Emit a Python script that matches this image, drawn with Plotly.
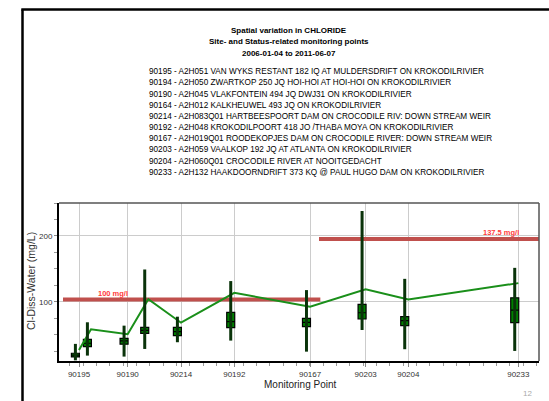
import plotly.graph_objects as go

# ---------------- data ----------------
site_ids = ["90195", "90194", "90190", "90164", "90214", "90192", "90167", "90203", "90204", "90233"]
site_pos = [15, 24, 51.5, 67, 91.5, 131.5, 188.3, 230, 262, 344.5]   # position along the river
labeled_sites = ["90195", "90190", "90214", "90192", "90167", "90203", "90204", "90233"]

whisker_low = [11, 18.2, 16.7, 28.3, 38.5, 41, 24.2, 57.1, 27.9, 25.3]
q1_vals = [16.2, 31.8, 35.5, 52.1, 48.5, 60.6, 62.1, 73.8, 63.6, 68.2]
median_vals = [19, 37, 40.5, 56.6, 54.5, 69.7, 68.8, 83.3, 71.2, 87.4]
q3_vals = [21.8, 43, 44.5, 61.2, 61.2, 83.9, 74.8, 96, 77.3, 106]
whisker_high = [36, 68.8, 63.7, 149, 77.3, 131.4, 117.7, 237.9, 134.8, 151.5]
mean_vals = [26.8, 58.2, 50.6, 104, 68.2, 113.6, 92.4, 118.8, 103.6, 128.3]

limit_values = [103.5, 195.5]
limit_labels = ["100 mg/l", "137.5 mg/l"]
limit_start = [3, 195]
limit_end = [196, 363]

station_lines = [
    "90195 - A2H051 VAN WYKS RESTANT 182 IQ AT MULDERSDRIFT ON KROKODILRIVIER",
    "90194 - A2H050 ZWARTKOP 250 JQ HOI-HOI AT HOI-HOI ON KROKODILRIVIER",
    "90190 - A2H045 VLAKFONTEIN 494 JQ DWJ31 ON KROKODILRIVIER",
    "90164 - A2H012 KALKHEUWEL 493 JQ ON KROKODILRIVIER",
    "90214 - A2H083Q01 HARTBEESPOORT DAM ON CROCODILE RIV: DOWN STREAM WEIR",
    "90192 - A2H048 KROKODILPOORT 418 JO /THABA MOYA ON KROKODILRIVIER",
    "90167 - A2H019Q01 ROODEKOPJES DAM ON CROCODILE RIVER: DOWN STREAM WEIR",
    "90203 - A2H059 VAALKOP 192 JQ AT ATLANTA ON KROKODILRIVIER",
    "90204 - A2H060Q01 CROCODILE RIVER AT NOOITGEDACHT",
    "90233 - A2H132 HAAKDOORNDRIFT 373 KQ @ PAUL HUGO DAM ON KROKODILRIVIER",
]
title_lines = ["Spatial variation in CHLORIDE",
               "Site- and Status-related monitoring points",
               "2006-01-04 to 2011-06-07"]
y_title = "Cl-Diss-Water (mg/L)"
x_title = "Monitoring Point"
page_number = "12"

# ---------------- layout helpers (pixel -> paper) ----------------
W, H = 549, 401
PL, PR, PT, PB = 59, 539, 203, 361
def px(x):
    return (x - PL) / (PR - PL)
def py(y):
    return (PB - y) / (PB - PT)

FONT = "Liberation Sans, Arial, sans-serif"
box_shift = -2.7

fig = go.Figure()

# limit lines
for v, s, e in zip(limit_values, limit_start, limit_end):
    fig.add_trace(go.Scatter(x=[s, e], y=[v, v], mode="lines",
                             line=dict(color="#c0504d", width=4), hoverinfo="skip",
                             showlegend=False))

# mean line
fig.add_trace(go.Scatter(x=site_pos, y=mean_vals, mode="lines",
                         line=dict(color="#1a8f1a", width=2), showlegend=False))

# whiskers
wx, wy = [], []
for p, lo, hi in zip(site_pos, whisker_low, whisker_high):
    wx += [p + box_shift, p + box_shift, None]
    wy += [lo, hi, None]
fig.add_trace(go.Scatter(x=wx, y=wy, mode="lines",
                         line=dict(color="#0a330a", width=3), showlegend=False))

# boxes
fig.add_trace(go.Box(x=[p + box_shift for p in site_pos], q1=q1_vals, median=median_vals,
                     q3=q3_vals, lowerfence=q1_vals, upperfence=q3_vals,
                     width=6, whiskerwidth=0, boxpoints=False,
                     fillcolor="#008000", line=dict(color="#000000", width=1.2),
                     showlegend=False))

shapes = [
    # top and right plot borders
    dict(type="line", xref="paper", yref="paper", x0=0, x1=1, y0=1, y1=1,
         line=dict(color="#555555", width=1.5)),
    dict(type="line", xref="paper", yref="paper", x0=1, x1=1, y0=0, y1=1,
         line=dict(color="#555555", width=1.5)),
    # outer page frame
    dict(type="line", xref="paper", yref="paper", x0=px(22.5), x1=px(22.5), y0=py(9.5), y1=py(410),
         line=dict(color="#000000", width=2.5)),
    dict(type="line", xref="paper", yref="paper", x0=px(21.3), x1=px(560), y0=py(9.5), y1=py(9.5),
         line=dict(color="#000000", width=2.5)),
]

annotations = []
title_y = [30.7, 41.9, 53.3]
for t, yy in zip(title_lines, title_y):
    annotations.append(dict(text="<b>%s</b>" % t, xref="paper", yref="paper", x=px(289), y=py(yy),
                            xanchor="center", yanchor="middle", showarrow=False,
                            font=dict(family=FONT, size=8, color="#000000")))
for i, t in enumerate(station_lines):
    annotations.append(dict(text=t, xref="paper", yref="paper", x=px(146.7), y=py(71.7 + 11.18 * i),
                            xanchor="left", yanchor="middle", showarrow=False,
                            font=dict(family=FONT, size=8.2, color="#000000")))
label_pos = [(40.5, 112.7), (331.5, 204.5)]
for lab, (lx, ly) in zip(limit_labels, label_pos):
    annotations.append(dict(text="<b>%s</b>" % lab, xref="x", yref="y", x=lx, y=ly,
                            xanchor="center", yanchor="middle", showarrow=False,
                            font=dict(family=FONT, size=7.5, color="#ff3b3b")))
annotations.append(dict(text=page_number, xref="paper", yref="paper", x=px(527), y=py(393),
                        xanchor="center", yanchor="middle", showarrow=False,
                        font=dict(family=FONT, size=8, color="#aaaaaa")))
annotations.append(dict(text=y_title, xref="paper", yref="paper", x=px(31), y=py(281),
                        xanchor="center", yanchor="middle", textangle=-90, showarrow=False,
                        font=dict(family=FONT, size=10.5, color="#333333")))
annotations.append(dict(text=x_title, xref="paper", yref="paper", x=px(300), y=py(384.5),
                        xanchor="center", yanchor="middle", showarrow=False,
                        font=dict(family=FONT, size=10, color="#222222")))

tick_pos = [site_pos[site_ids.index(s)] for s in labeled_sites]

fig.update_layout(
    width=W, height=H,
    margin=dict(l=PL, r=W - PR, t=PT, b=H - PB, pad=0),
    paper_bgcolor="white", plot_bgcolor="white",
    font=dict(family=FONT, size=8, color="#333333"),
    showlegend=False,
    shapes=shapes, annotations=annotations,
    xaxis=dict(range=[0, 360], tickmode="array", tickvals=tick_pos, ticktext=labeled_sites,
               showgrid=True, gridcolor="#cccccc", gridwidth=1, zeroline=False,
               showline=True, linecolor="#000000", linewidth=2,
               ticks="outside", ticklen=4, tickcolor="#888888", tickwidth=1,
               tickfont=dict(family=FONT, size=8, color="#333333"),
               minor=dict(tickmode="linear", tick0=8, dtick=10, ticks="outside", ticklen=3,
                          tickcolor="#999999", showgrid=False)),
    yaxis=dict(range=[10, 250], tickmode="array", tickvals=[100, 200],
               showgrid=True, gridcolor="#cccccc", gridwidth=1, zeroline=False,
               showline=True, linecolor="#000000", linewidth=2,
               ticks="outside", ticklen=3, tickcolor="#888888", tickwidth=1,
               tickfont=dict(family=FONT, size=8, color="#333333"),
               minor=dict(tickmode="linear", tick0=0, dtick=25, ticks="outside", ticklen=3,
                          tickcolor="#999999", showgrid=False)),
)

fig.write_html("out.html", config={"displayModeBar": False},
               post_script="document.body.style.margin='0';")
